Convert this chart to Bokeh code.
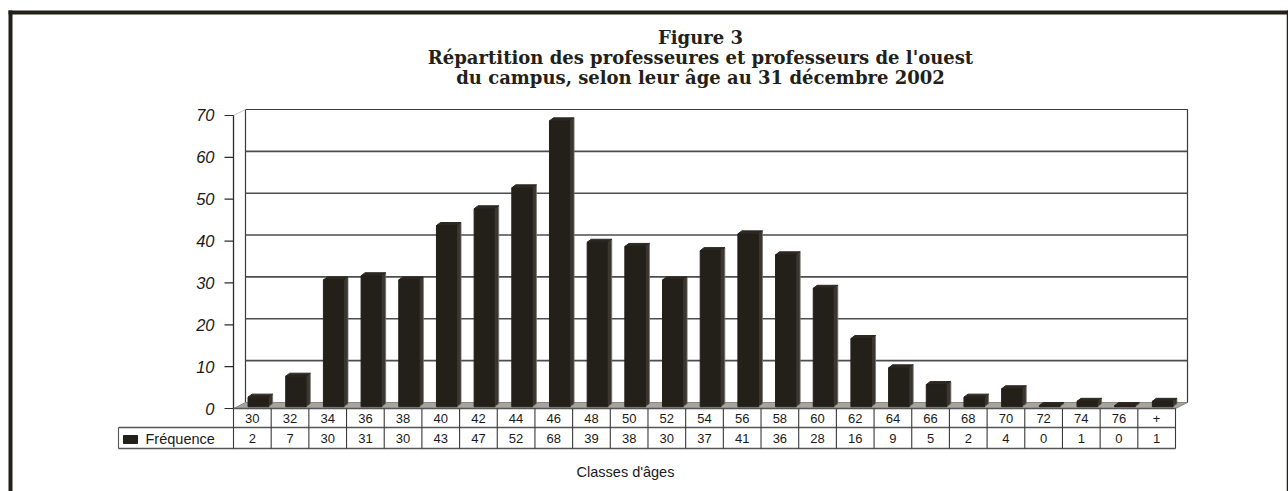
import numpy as np
from bokeh.plotting import figure
from bokeh.models import Range1d
from bokeh.core.properties import value
from bokeh.embed import file_html
from bokeh.resources import INLINE

# ---------------- data ----------------
categories = ["30", "32", "34", "36", "38", "40", "42", "44", "46", "48", "50", "52",
              "54", "56", "58", "60", "62", "64", "66", "68", "70", "72", "74", "76", "+"]
frequences = [2, 7, 30, 31, 30, 43, 47, 52, 68, 39, 38, 30, 37, 41, 36, 28, 16, 9, 5,
              2, 4, 0, 1, 0, 1]
y_ticks = [0, 10, 20, 30, 40, 50, 60, 70]
series_name = "Fréquence"
x_label = "Classes d'âges"
title_lines = ["Figure 3",
               "Répartition des professeures et professeurs de l'ouest",
               "du campus, selon leur âge au 31 décembre 2002"]

# ---------------- layout (pixels) ----------------
W, H = 1288, 491
MARGIN = 0
AX_X = 233.0      # page x of the y axis / table left edge
COLW = 37.68      # px per category column
ZERO_Y = 408.0    # page y of value 0 (front plane)
PXV = 4.186       # px per unit of value
DEPTH_X, DEPTH_Y = 12.0, 6.0   # 3D depth offset in px


def X(px):
    return (px - AX_X) / COLW


def Y(py):
    return (ZERO_Y - py) / PXV


DK = "#231f19"
TXT = "#1a1a1a"

p = figure(width=W, height=H, output_backend="svg", toolbar_location=None,
           x_range=Range1d(X(MARGIN), X(MARGIN + W)),
           y_range=Range1d(Y(MARGIN + H), Y(MARGIN)),
           x_axis_location=None, y_axis_location=None, title=None,
           min_border=0, outline_line_color=None,
           background_fill_color="white", border_fill_color="white")
p.xgrid.visible = False
p.ygrid.visible = False

n = len(categories)
idx = np.arange(n)
dx = DEPTH_X / COLW
dy = DEPTH_Y / PXV
vmax = max(y_ticks)

# ---------------- back wall ----------------
p.quad(left=[dx], right=[n + dx], bottom=[dy], top=[vmax + dy],
       fill_color="white", line_color="#3a3a3a", line_width=1.2)
grid_v = [t for t in y_ticks if 0 < t < vmax]
p.segment(x0=[dx] * len(grid_v), x1=[n + dx] * len(grid_v),
          y0=[g + dy for g in grid_v], y1=[g + dy for g in grid_v],
          line_color="#4d4d4d", line_width=1.6)
# left wall top edge
p.segment(x0=[0], y0=[vmax], x1=[dx], y1=[vmax + dy], line_color="#c8c8c8", line_width=1)

# ---------------- floor ----------------
p.patch(x=[0, n, n + dx, dx], y=[0, 0, dy, dy], fill_color="#a7a39d",
        line_color="#8a8680", line_width=1)

# ---------------- 3D bars ----------------
freq = np.array(frequences, dtype=float)
half = 10.3 / COLW
center = idx + 0.5 + dx / 2
left = center - half
right = center + half
bottom = np.full(n, dy / 2 - 0.3)
top = freq + dy / 2
bdx = 4.0 / COLW
bdy = 3.0 / PXV

side_xs = [[r, r + bdx, r + bdx, r] for r in right]
side_ys = [[b, b + bdy, t + bdy, t] for b, t in zip(bottom, top)]
p.patches(xs=side_xs, ys=side_ys, fill_color="#3a362f", line_color="#77736c", line_width=0.8)
top_xs = [[l, r, r + bdx, l + bdx] for l, r in zip(left, right)]
top_ys = [[t, t, t + bdy, t + bdy] for t in top]
p.patches(xs=top_xs, ys=top_ys, fill_color="#2c2821", line_color="#2c2821", line_width=1)
p.quad(left=left, right=right, bottom=bottom, top=top, fill_color=DK, line_color=DK,
       line_width=1)

# ---------------- y axis ----------------
p.segment(x0=[0], x1=[0], y0=[0], y1=[vmax], line_color="#2a2a2a", line_width=1.3)
p.segment(x0=[X(224)] * len(y_ticks), x1=[0] * len(y_ticks), y0=y_ticks, y1=y_ticks,
          line_color="#2a2a2a", line_width=1.2)
p.text(x=[X(214)] * len(y_ticks), y=y_ticks, text=[str(t) for t in y_ticks],
       text_font=value("Liberation Sans"), text_font_style="italic",
       text_font_size="16.5px", text_align="right", text_baseline="middle",
       text_color=TXT)

# ---------------- data table ----------------
row1_bot = Y(427)
row2_bot = Y(448)
leg_left = X(118)
TL = "#555555"
# horizontal lines
p.segment(x0=[0, leg_left, leg_left], x1=[n, n, n], y0=[0, row1_bot, row2_bot],
          y1=[0, row1_bot, row2_bot], line_color=TL, line_width=1.3)
# vertical lines
vx = list(range(n + 1))
p.segment(x0=vx, x1=vx, y0=[0] * len(vx), y1=[row2_bot] * len(vx),
          line_color="#3a3a3a", line_width=1.1)
p.segment(x0=[leg_left], x1=[leg_left], y0=[row1_bot], y1=[row2_bot],
          line_color=TL, line_width=1.1)

p.text(x=idx + 0.5, y=[Y(418)] * n, text=categories,
       text_font=value("Liberation Sans"), text_font_size="13px",
       text_align="center", text_baseline="middle", text_color=TXT)
p.text(x=idx + 0.5, y=[Y(438)] * n, text=[str(v) for v in frequences],
       text_font=value("Liberation Sans"), text_font_size="13px",
       text_align="center", text_baseline="middle", text_color=TXT)
# legend key
p.quad(left=[X(123)], right=[X(137)], bottom=[Y(443)], top=[Y(435)],
       fill_color=DK, line_color=DK)
p.text(x=[X(145)], y=[Y(438.5)], text=[series_name],
       text_font=value("Liberation Sans"), text_font_size="14.5px",
       text_align="left", text_baseline="middle", text_color=TXT)

# x axis label
p.text(x=[X(625)], y=[Y(471)], text=[x_label],
       text_font=value("Liberation Sans"), text_font_size="14.5px",
       text_align="center", text_baseline="middle", text_color=TXT)

# ---------------- title ----------------
p.text(x=[X(700)] * 3, y=[Y(37), Y(57), Y(77)], text=title_lines,
       text_font=value("DejaVu Serif"), text_font_style="bold",
       text_font_size="18px", text_align="center", text_baseline="middle",
       text_color=DK)

# ---------------- outer frame ----------------
p.quad(left=[X(8), X(8)], right=[X(12), X(MARGIN + W)],
       bottom=[Y(MARGIN + H), Y(14)], top=[Y(10), Y(10)],
       fill_color=DK, line_color=None)
p.segment(x0=[X(MARGIN + W - 1)], x1=[X(MARGIN + W - 1)], y0=[Y(10)], y1=[Y(MARGIN + H)],
          line_color=DK, line_width=1.5)

open("out.html", "w").write(file_html(p, INLINE))
